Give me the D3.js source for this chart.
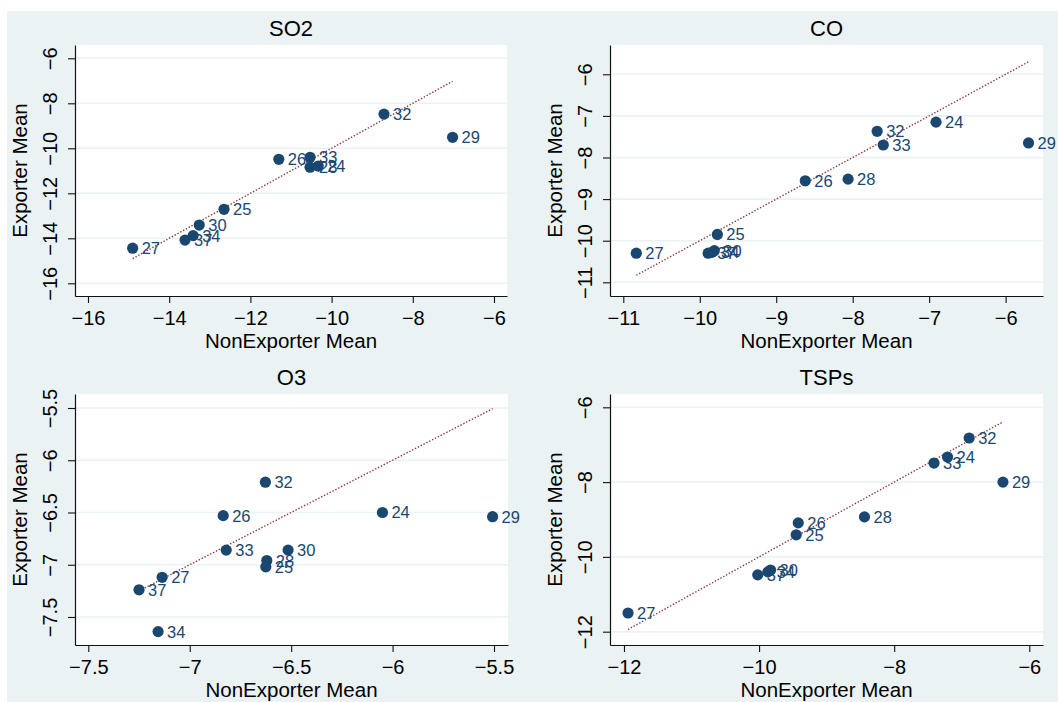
<!DOCTYPE html>
<html>
<head>
<meta charset="utf-8">
<title>Exporter vs NonExporter means</title>
<script src="https://d3js.org/d3.v7.min.js"></script>
<style>
    body { margin: 0; background: #ffffff; }
    svg { display: block; font-family: "Liberation Sans", Arial, Helvetica, sans-serif; }
</style>
</head>
<body>
<div id="chart"></div>
<script>
// Observation ids (marker labels)
const ids = [24, 25, 26, 27, 28, 29, 30, 32, 33, 34, 37];

// SO2
const so2NonExp = [-10.33, -12.65, -11.30, -14.90, -10.53, -7.02, -13.26, -8.71, -10.53, -13.41, -13.61];
const so2Exp    = [-10.79, -12.71, -10.49, -14.44, -10.84, -9.51, -13.41, -8.48, -10.40, -13.88, -14.08];
const so2Ticks  = [-16, -14, -12, -10, -8, -6];

// CO
const coNonExp = [-6.91, -9.77, -8.62, -10.83, -8.06, -5.70, -9.81, -7.68, -7.60, -9.84, -9.89];
const coExp    = [-7.15, -9.85, -8.56, -10.30, -8.52, -7.65, -10.24, -7.37, -7.70, -10.28, -10.30];
const coTicks  = [-11, -10, -9, -8, -7, -6];

// O3
const o3NonExp = [-6.05, -6.625, -6.835, -7.136, -6.62, -5.507, -6.515, -6.627, -6.82, -7.156, -7.25];
const o3Exp    = [-6.50, -7.02, -6.53, -7.12, -6.96, -6.54, -6.86, -6.21, -6.86, -7.64, -7.24];
const o3Ticks  = [-7.5, -7, -6.5, -6, -5.5];

// TSPs
const tspNonExp = [-7.21, -9.45, -9.42, -11.94, -8.44, -6.39, -9.83, -6.89, -7.41, -9.87, -10.02];
const tspExp    = [-7.33, -9.41, -9.09, -11.50, -8.93, -8.00, -10.35, -6.82, -7.49, -10.40, -10.48];
const tspTicks  = [-12, -10, -8, -6];

const W = 1058, H = 702;
const navy = '#1a476f', maroon = '#90353b', bg = '#eaf2f3';

const panels = [
    { title: 'SO2', xs: so2NonExp, ys: so2Exp, xt: so2Ticks, yt: so2Ticks,
      box: [75, 507, 45, 296], xd: [-16.32, -5.68], yd: [-16.564, -5.409] },
    { title: 'CO', xs: coNonExp, ys: coExp, xt: coTicks, yt: coTicks,
      box: [610, 1043, 45, 296], xd: [-11.174, -5.511], yd: [-11.329, -5.296] },
    { title: 'O3', xs: o3NonExp, ys: o3Exp, xt: o3Ticks, yt: o3Ticks,
      box: [75, 508, 394, 645], xd: [-7.5656, -5.431], yd: [-7.768, -5.366] },
    { title: 'TSPs', xs: tspNonExp, ys: tspExp, xt: tspTicks, yt: tspTicks,
      box: [610, 1043, 394, 645], xd: [-12.207, -5.797], yd: [-12.356, -5.644] }
];

const svg = d3.select('#chart').append('svg')
    .attr('width', W).attr('height', H);

// graph region
svg.append('rect')
    .attr('x', 7).attr('y', 11)
    .attr('width', W - 7).attr('height', H - 11)
    .attr('fill', bg);

const fmt = d3.format('');

panels.forEach(p => {
    const [x0, x1, y0, y1] = p.box;
    const x = d3.scaleLinear().domain(p.xd).range([x0, x1]);
    const y = d3.scaleLinear().domain(p.yd).range([y1, y0]);
    const g = svg.append('g');

    // plot region
    g.append('rect')
        .attr('x', x0).attr('y', y0)
        .attr('width', x1 - x0).attr('height', y1 - y0)
        .attr('fill', '#ffffff');

    // gridlines
    g.selectAll('line.grid')
        .data(p.yt)
        .enter()
        .append('line')
        .attr('class', 'grid')
        .attr('x1', x0).attr('x2', x1)
        .attr('y1', d => y(d)).attr('y2', d => y(d))
        .attr('stroke', bg)
        .attr('stroke-width', 1.6);

    // 45 degree reference line over the data range
    const ext = d3.extent(p.xs);
    g.append('line')
        .attr('x1', x(ext[0])).attr('y1', y(ext[0]))
        .attr('x2', x(ext[1])).attr('y2', y(ext[1]))
        .attr('stroke', maroon)
        .attr('stroke-width', 1.4)
        .attr('stroke-dasharray', '1.4,1.8');

    // axes
    const xAxis = g.append('g')
        .attr('transform', `translate(0,${y1})`)
        .call(d3.axisBottom(x).tickValues(p.xt).tickFormat(fmt)
            .tickSize(7).tickSizeOuter(0).tickPadding(8));
    const yAxis = g.append('g')
        .attr('transform', `translate(${x0},0)`)
        .call(d3.axisLeft(y).tickValues(p.yt).tickFormat(fmt)
            .tickSize(7).tickSizeOuter(0));

    [xAxis, yAxis].forEach(a => {
        a.select('.domain').attr('stroke', '#111').attr('stroke-width', 1.2);
        a.selectAll('.tick line').attr('stroke', '#111').attr('stroke-width', 1.1);
        a.selectAll('.tick text')
            .attr('fill', '#000')
            .style('font-size', '20px')
            .style('font-family', '"Liberation Sans", Arial, sans-serif');
    });
    yAxis.selectAll('.tick text')
        .attr('x', null).attr('dy', null)
        .attr('transform', 'translate(-18,0) rotate(-90)')
        .attr('text-anchor', 'middle');

    // titles
    g.append('text')
        .attr('x', (x0 + x1) / 2).attr('y', y0 - 9)
        .attr('text-anchor', 'middle')
        .style('font-size', '22px')
        .text(p.title);
    g.append('text')
        .attr('x', (x0 + x1) / 2).attr('y', y1 + 52)
        .attr('text-anchor', 'middle')
        .style('font-size', '20.5px')
        .text('NonExporter Mean');
    g.append('text')
        .attr('transform', `translate(${x0 - 48},${(y0 + y1) / 2}) rotate(-90)`)
        .attr('text-anchor', 'middle')
        .style('font-size', '20.5px')
        .text('Exporter Mean');

    // markers
    const pts = ids.map((id, i) => ({ id, nx: p.xs[i], ex: p.ys[i] }));
    g.selectAll('circle')
        .data(pts)
        .enter()
        .append('circle')
        .attr('cx', d => x(d.nx))
        .attr('cy', d => y(d.ex))
        .attr('r', 5.6)
        .attr('fill', navy);

    g.selectAll('text.lbl')
        .data(pts)
        .enter()
        .append('text')
        .attr('class', 'lbl')
        .attr('x', d => x(d.nx) + 9)
        .attr('y', d => y(d.ex))
        .attr('dy', '0.36em')
        .attr('fill', navy)
        .style('font-size', '16.5px')
        .text(d => d.id);
});
</script>
</body>
</html>
